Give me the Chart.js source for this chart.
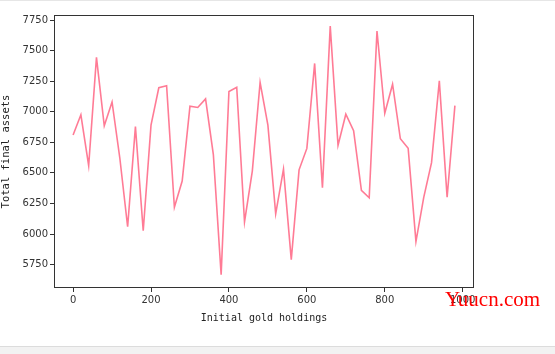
<!DOCTYPE html>
<html>
<head>
<meta charset="utf-8">
<script src="https://cdn.jsdelivr.net/npm/chart.js@4"></script>
<style>
html, body { margin: 0; padding: 0; background: #fff; }
#wrap { position: relative; width: 555px; height: 354px; overflow: hidden; }
#bar { position: absolute; left: 0; top: 346px; width: 555px; height: 8px; background: #f2f2f2; border-top: 1px solid #dcdcdc; }
#topline { position: absolute; left: 0; top: 0; width: 555px; height: 1px; background: #e6e6e6; }
</style>
</head>
<body>
<div id="wrap">
<canvas id="c" width="555" height="354"></canvas>
<div id="topline"></div>
<div id="bar"></div>
</div>
<script>
// initial gold holdings (x) and total final assets (y)
var golds = [];
for (var g = 0; g <= 980; g += 20) golds.push(g);
var assets = [6810, 6975, 6560, 7445, 6885, 7080, 6620, 6060, 6878, 6027,
              6890, 7196, 7212, 6219, 6433, 7045, 7035, 7105, 6650, 5668,
              7165, 7200, 6099, 6515, 7240, 6890, 6165, 6530, 5791, 6525,
              6700, 7395, 6379, 7700, 6725, 6980, 6845, 6357, 6297, 7660,
              6988, 7225, 6779, 6702, 5939, 6300, 6584, 7252, 6301, 7050];
var xTicks = [0, 200, 400, 600, 800, 1000];
var yTicks = [5750, 6000, 6250, 6500, 6750, 7000, 7250, 7500, 7750];

var pts = golds.map(function (g, i) { return { x: g, y: assets[i] }; });

var frame = {
  id: 'frame',
  afterDraw: function (chart) {
    var a = chart.chartArea, ctx = chart.ctx;
    ctx.save();
    ctx.strokeStyle = '#333';
    ctx.lineWidth = 1;
    ctx.strokeRect(a.left + 0.5, a.top + 0.5, a.right - a.left - 1, a.bottom - a.top - 1);
    ctx.fillStyle = '#ff0000';
    ctx.font = '21px "Liberation Serif"';
    ctx.textBaseline = 'alphabetic';
    ctx.fillText('Yuucn.com', 445, 306);
    ctx.restore();
  }
};

new Chart(document.getElementById('c'), {
  type: 'line',
  data: {
    datasets: [{
      data: pts,
      borderColor: 'rgba(255,100,130,0.85)',
      borderWidth: 1.6,
      pointRadius: 0,
      tension: 0,
      fill: false
    }]
  },
  options: {
    responsive: false,
    animation: false,
    layout: { padding: { left: 0, top: 15, right: 81, bottom: 28 } },
    plugins: { legend: { display: false }, tooltip: { enabled: false } },
    scales: {
      x: {
        type: 'linear',
        min: -49, max: 1029,
        afterBuildTicks: function (s) { s.ticks = xTicks.map(function (v) { return { value: v }; }); },
        afterFit: function (s) { s.height = 38; },
        grid: { drawOnChartArea: false, drawTicks: true, tickLength: 4, color: '#333' },
        border: { display: false },
        ticks: { color: '#333', font: { family: 'DejaVu Sans', size: 10 }, padding: 2, maxRotation: 0,
                 callback: function (v) { return String(v); } },
        title: { display: true, text: 'Initial gold holdings', color: '#222',
                 font: { family: 'DejaVu Sans Mono', size: 10 }, padding: { top: 0, bottom: 2 } }
      },
      y: {
        min: 5559, max: 7791,
        afterBuildTicks: function (s) { s.ticks = yTicks.map(function (v) { return { value: v }; }); },
        afterFit: function (s) { s.width = 54; },
        grid: { drawOnChartArea: false, drawTicks: true, tickLength: 4, color: '#333' },
        border: { display: false },
        ticks: { color: '#333', font: { family: 'DejaVu Sans', size: 10 }, padding: 2,
                 callback: function (v) { return String(v); } },
        title: { display: true, text: 'Total final assets', color: '#222',
                 font: { family: 'DejaVu Sans Mono', size: 10.5 }, padding: { top: 0, bottom: 0 } }
      }
    }
  },
  plugins: [frame]
});
</script>
</body>
</html>
